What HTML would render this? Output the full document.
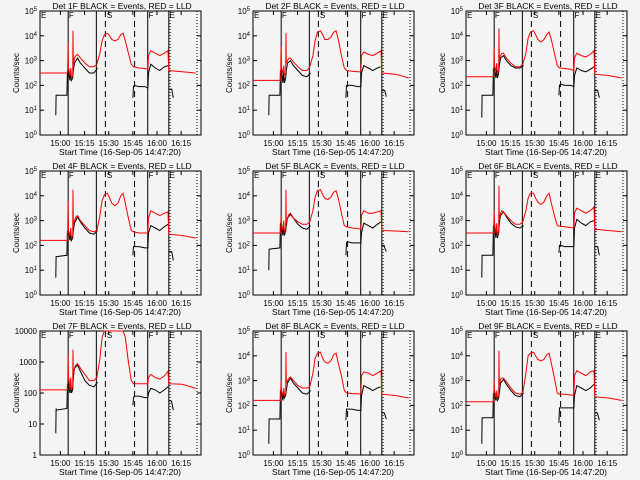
<!DOCTYPE html>
<html><head><meta charset="utf-8"><style>
html,body{margin:0;padding:0;background:#f4f4f4;}
svg{display:block;font-family:"Liberation Sans",sans-serif;}
</style></head><body>
<svg id="c" width="640" height="480" viewBox="0 0 640 480">
<rect x="0" y="0" width="640" height="480" fill="#f4f4f4"/>
</svg>
<script>
const redTimes=[0,17.2,17.4,17.7,18.1,18.6,19.1,19.5,20.3,20.5,20.7,21.4,22.3,23.3,25.1,27.9,30.7,33.5,35.3,37.2,38.6,40,41.9,43.2,44.6,46.5,48.4,50.2,51.6,53,54.9,56.7,58.1,61.4,65.1,67,67.4,68.8,71.6,74.4,77.2,79.5,80,88.4,96.7];
const blackTimes=[9.8,10,10.2,16.7,17,17.3,17.7,18.1,18.6,19.1,19.5,20.3,20.7,21.4,23.3,25.1,27.9,30.7,33.5,35.8,36.3,57.7,58.1,58.6,61.4,65.1,67,67.4,68.8,71.6,74.4,77.2,79.5,79.7,80,81.4,81.8,82.8];
const red1=[2.5,2.5,3.7,2.7,2.6,2.4,2.7,2.3,2.4,4.2,2.8,3.1,3.2,3.25,3.1,2.9,2.75,2.75,2.85,3.3,3.8,4.05,4.1,4.0,3.85,3.8,3.85,4.05,4.1,3.8,3.3,2.85,2.75,2.7,2.68,2.65,3.2,3.4,3.3,3.2,3.3,3.4,2.6,2.55,2.5];
const red2=[2.2,2.2,3.6,2.7,2.6,2.5,2.8,2.4,2.5,4.1,2.9,3.0,3.1,3.1,2.95,2.75,2.6,2.6,2.75,3.2,3.8,4.15,4.2,4.05,3.85,3.85,3.95,4.15,4.2,3.85,3.2,2.7,2.6,2.57,2.55,2.55,3.2,3.35,3.25,3.2,3.3,3.4,2.5,2.45,2.3];
const red3=[2.35,2.35,3.5,2.8,2.7,2.6,2.9,2.5,2.6,4.3,3.0,3.2,3.3,3.3,3.1,2.9,2.75,2.75,2.85,3.3,3.9,4.15,4.2,4.05,3.85,3.75,3.85,4.05,4.15,3.85,3.3,2.8,2.7,2.68,2.65,2.6,3.1,3.3,3.2,3.15,3.25,3.4,2.45,2.4,2.3];
const red4=[2.2,2.2,3.8,2.6,2.5,2.4,2.7,2.3,2.4,4.25,2.8,3.0,3.15,3.2,3.0,2.8,2.6,2.55,2.6,3.2,3.8,4.05,4.1,3.9,3.7,3.6,3.7,4.0,4.1,3.7,3.1,2.6,2.55,2.5,2.5,2.5,3.1,3.4,3.3,3.2,3.3,3.35,2.45,2.4,2.3];
const red5=[2.5,2.5,3.2,2.9,2.7,2.6,3.0,2.5,2.7,4.25,2.9,3.1,3.25,3.3,3.1,2.95,2.85,2.85,2.95,3.4,3.95,4.2,4.25,4.05,3.9,3.85,3.95,4.15,4.2,3.9,3.3,2.8,2.75,2.7,2.68,2.65,3.2,3.4,3.3,3.3,3.35,3.4,2.6,2.58,2.55];
const red6=[2.5,2.5,3.4,2.9,2.7,2.5,2.9,2.4,2.6,4.4,3.0,3.3,3.4,3.35,3.2,3.0,2.85,2.85,2.95,3.4,3.9,4.1,4.1,3.9,3.75,3.65,3.75,4.0,4.1,3.7,3.2,2.8,2.78,2.75,2.72,2.7,3.3,3.5,3.4,3.3,3.4,3.55,2.65,2.6,2.55];
const red7=[2.1,2.1,3.2,2.5,2.4,2.1,2.5,2.1,2.2,3.4,2.6,2.8,2.9,2.95,2.8,2.6,2.4,2.4,2.5,3.1,3.8,4.0,4.0,4.0,4.0,4.0,4.0,4.0,4.0,3.8,3.0,2.4,2.3,2.3,2.3,2.3,2.5,2.6,2.5,2.45,2.55,2.7,2.3,2.28,2.15];
const red8=[2.2,2.2,3.0,2.6,2.5,2.4,2.7,2.4,2.5,4.15,2.9,3.0,3.1,3.15,3.0,2.8,2.7,2.7,2.75,3.3,3.9,4.1,4.15,3.9,3.75,3.7,3.8,4.05,4.1,3.7,3.2,2.6,2.5,2.48,2.47,2.45,3.2,3.35,3.3,3.2,3.3,3.4,2.45,2.4,2.3];
const red9=[2.15,2.15,3.0,2.6,2.5,2.3,2.6,2.3,2.4,4.2,2.8,3.05,3.1,3.1,2.95,2.7,2.5,2.45,2.5,3.3,4.0,4.1,4.15,4.0,3.85,3.8,3.85,4.05,4.1,3.7,3.1,2.5,2.45,2.45,2.42,2.4,3.2,3.4,3.3,3.2,3.35,3.4,2.35,2.3,2.2];
const black1=[0.8,1.6,1.6,1.6,2.6,2.5,2.7,2.4,2.2,2.6,2.2,2.3,2.6,2.9,3.1,2.9,2.7,2.5,2.5,2.7,null,1.5,1.95,2.0,1.95,1.95,1.9,2.5,2.85,2.7,2.6,2.75,2.8,null,1.85,1.85,1.85,1.5];
const black2=[0.8,1.6,1.6,1.6,2.6,2.5,2.7,2.4,2.1,2.6,2.1,2.3,2.6,2.9,3.0,2.8,2.6,2.4,2.35,2.5,null,1.5,2.0,2.0,2.0,1.95,1.95,2.5,2.8,2.7,2.6,2.7,2.75,null,1.8,1.8,1.8,1.55];
const black3=[0.7,1.6,1.6,1.6,2.7,2.6,2.8,2.5,2.3,2.7,2.3,2.5,2.8,3.1,3.2,3.0,2.8,2.7,2.7,2.8,null,1.6,2.0,2.05,2.0,2.0,1.95,2.4,2.7,2.6,2.55,2.65,2.75,null,1.8,1.8,1.8,1.5];
const black4=[0.7,1.55,1.55,1.6,2.6,2.5,2.6,2.4,2.2,2.5,2.2,2.3,2.6,2.9,3.15,2.95,2.7,2.5,2.45,2.6,null,1.6,1.95,1.95,1.95,1.9,1.9,2.5,2.8,2.7,2.6,2.75,2.85,null,1.75,1.75,1.75,1.4];
const black5=[1.0,1.85,1.85,1.9,2.9,2.8,2.9,2.6,2.4,2.8,2.4,2.6,2.8,3.1,3.25,3.1,2.85,2.7,2.65,2.8,null,1.6,2.1,2.15,2.1,2.1,2.1,2.5,2.9,2.8,2.7,2.85,2.95,null,2.0,2.0,1.9,1.75];
const black6=[0.7,1.6,1.6,1.6,2.8,2.7,2.9,2.6,2.3,2.8,2.3,2.5,2.9,3.2,3.35,3.15,2.9,2.75,2.7,2.8,null,1.7,2.0,2.0,1.95,1.95,1.95,2.7,3.05,2.9,2.8,2.95,3.0,null,1.95,1.95,1.95,1.6];
const black7=[0.7,1.5,1.45,1.5,2.3,2.2,2.5,2.1,2.0,2.3,2.0,2.1,2.5,2.8,2.9,2.7,2.4,2.25,2.2,2.35,null,1.6,1.85,1.9,1.9,1.85,1.85,2.0,2.15,2.1,2.0,2.1,2.2,null,1.75,1.75,1.7,1.45];
const black8=[0.45,1.45,1.45,1.45,2.6,2.5,2.6,2.4,2.2,2.5,2.3,2.4,2.6,2.9,3.1,2.9,2.7,2.5,2.45,2.6,null,1.4,1.85,1.85,1.85,1.8,1.8,2.4,2.8,2.7,2.6,2.7,2.75,null,1.7,1.7,1.65,1.45];
const black9=[0.45,1.5,1.5,1.5,2.5,2.4,2.5,2.3,2.2,2.5,2.2,2.3,2.5,2.9,3.05,2.85,2.6,2.4,2.35,2.5,null,1.3,1.9,1.9,1.9,1.9,1.9,2.4,2.8,2.7,2.6,2.7,2.85,null,1.7,1.7,1.65,1.4];
const xTickTimes=[12.67,27.67,42.67,57.67,72.67,87.67];
const xTickLabels=["15:00","15:15","15:30","15:45","16:00","16:15"];
const solidLines=[17.5,35,66.9,80];
const dashedLines=[40.6,58.75];
const dottedLines=[80.8,97.5];
const panelTitles=["Det 1F","Det 2F","Det 3F","Det 4F","Det 5F","Det 6F","Det 7F","Det 8F","Det 9F"];
const redSets=[red1,red2,red3,red4,red5,red6,red7,red8,red9];
const blackSets=[black1,black2,black3,black4,black5,black6,black7,black8,black9];

const NS="http://www.w3.org/2000/svg";
const svg=document.getElementById('c');
function mk(tag,attrs,parent){const e=document.createElementNS(NS,tag);for(const k in attrs)e.setAttribute(k,attrs[k]);(parent||svg).appendChild(e);return e;}

for(let p=0;p<9;p++){
  const ox=[0,213,426][p%3], oy=[0,160,320][Math.floor(p/3)];
  const L=ox+40,R=ox+201,T=oy+11,B=oy+135;
  const tmax=100;
  const yMax=(p===6)?4:5;
  const xs=t=>L+t/tmax*(R-L);
  const ys=v=>B-Math.min(v,yMax)/yMax*(B-T);
  const g=mk('g',{});
  
  
  const fr=mk('rect',{x:L,y:T,width:R-L,height:B-T,fill:'none',stroke:'#000','stroke-width':1},g);
  
  
  for(let k=0;k<=yMax;k++){
    const y=ys(k);
    mk('line',{x1:L,x2:L+4,y1:y,y2:y,stroke:'#000'},g);
    mk('line',{x1:R-4,x2:R,y1:y,y2:y,stroke:'#000'},g);
    const tx=mk('text',{x:L-3,y:y+3,'font-size':8,'text-anchor':'end',fill:'#000'},g);
    
    
    if(p===6){tx.textContent=String(Math.pow(10,k));}
    else{tx.textContent='10';const s=mk('tspan',{dy:-3,'font-size':6},tx);s.textContent=String(k);}
  }
  xTickTimes.forEach((t,i)=>{
    const x=xs(t);
    mk('line',{x1:x,x2:x,y1:B,y2:B-4,stroke:'#000'},g);
    mk('line',{x1:x,x2:x,y1:T,y2:T+4,stroke:'#000'},g);
    const tx=mk('text',{x:x,y:B+11,'font-size':8,'text-anchor':'middle',fill:'#000'},g);
    
    
    tx.textContent=xTickLabels[i];
  });
  const xt=mk('text',{x:ox+120,y:oy+155,'font-size':8.5,'text-anchor':'middle',fill:'#000'},g);
  
  
  xt.textContent='Start Time (16-Sep-05 14:47:20)';
  const yt=mk('text',{x:0,y:0,'font-size':8,'text-anchor':'middle',fill:'#000',transform:`translate(${ox+19},${oy+73}) rotate(-90)`},g);
  
  
  yt.textContent='Counts/sec';
  const tt=mk('text',{x:ox+122,y:oy+9,'font-size':8.5,'text-anchor':'middle',fill:'#000'},g);
  
  
  tt.textContent=panelTitles[p]+' BLACK = Events, RED = LLD';
  [['E',0.6],['F',17.9],['S',41.5],['F',67.4],['E',80.5]].forEach(m=>{
    const t=mk('text',{x:xs(m[1]),y:T+7,'font-size':8,fill:'#000'},g);
    
    
    t.textContent=m[0];
  });
  solidLines.forEach(t=>{const l=mk('line',{x1:xs(t),x2:xs(t),y1:T,y2:B,stroke:'#000'},g);});
  dashedLines.forEach(t=>{const l=mk('line',{x1:xs(t),x2:xs(t),y1:T,y2:B,stroke:'#000','stroke-dasharray':'6,4'},g);});
  dottedLines.forEach(t=>{const l=mk('line',{x1:xs(t),x2:xs(t),y1:T,y2:B,stroke:'#000','stroke-dasharray':'1,2'},g);});
  function path(times,vals){
    let d='',pen=false;
    for(let i=0;i<times.length;i++){
      const v=vals[i];
      if(v===null||v===undefined){pen=false;continue;}
      d+=(pen?'L':'M')+xs(times[i]).toFixed(1)+','+ys(v).toFixed(1);pen=true;
    }
    return d;
  }
  const bl=mk('path',{d:path(blackTimes,blackSets[p]),fill:'none',stroke:'#000','stroke-width':1},g);
  
  
  const rl=mk('path',{d:path(redTimes,redSets[p]),fill:'none',stroke:'#ff0000','stroke-width':1},g);
  
  
}
</script>
</body></html>
